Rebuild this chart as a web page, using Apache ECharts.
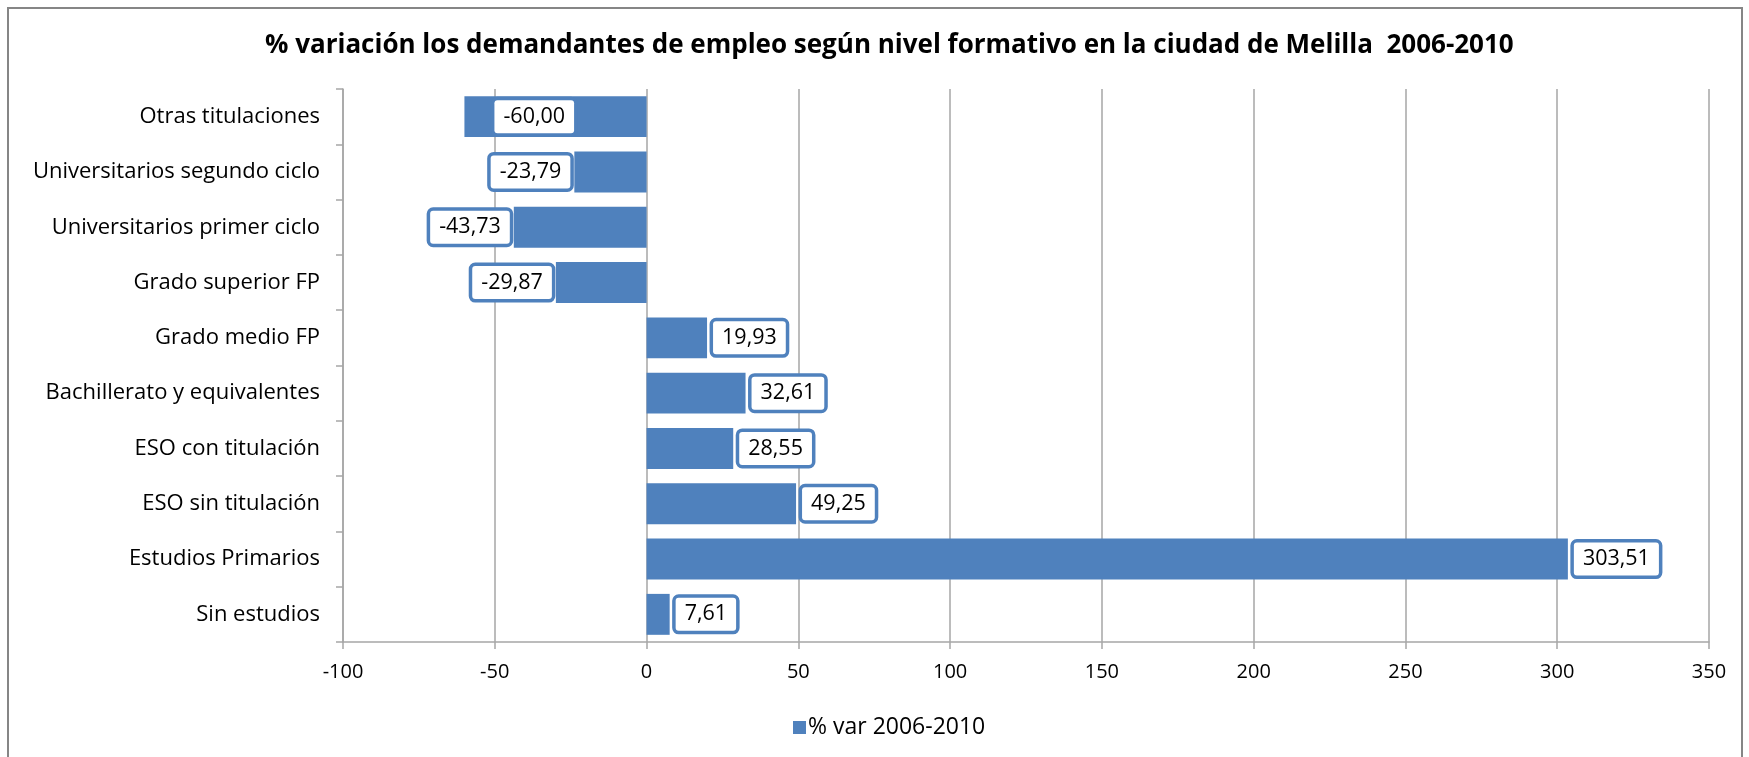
<!DOCTYPE html>
<html>
<head>
<meta charset="utf-8">
<script src="https://cdn.jsdelivr.net/npm/echarts@6/dist/echarts.min.js"></script>
<style>
html,body{margin:0;padding:0;background:#fff;}
#c{width:1749px;height:757px;}
</style>
</head>
<body>
<div id="c"></div>
<script>
const titleText = '% variación los demandantes de empleo según nivel formativo en la ciudad de Melilla  2006-2010';
const seriesName = '% var 2006-2010';
const categories = ['Sin estudios','Estudios Primarios','ESO sin titulación','ESO con titulación','Bachillerato y equivalentes','Grado medio FP','Grado superior FP','Universitarios primer ciclo','Universitarios segundo ciclo','Otras titulaciones'];
const values = [7.61, 303.51, 49.25, 28.55, 32.61, 19.93, -29.87, -43.73, -23.79, -60.00];
const xTicks = {min: -100, max: 350, interval: 50};

const FONT = '"Open Sans", Lato, sans-serif';
const BLUE = '#4F81BD';
const GRID = '#A6A6A6';

const chart = echarts.init(document.getElementById('c'), null, {renderer: 'canvas'});

const baseLabel = {
  show: true,
  formatter: p => p.value.toFixed(2).replace('.', ','),
  fontFamily: FONT,
  fontSize: 21.5,
  lineHeight: 24,
  color: '#000',
  backgroundColor: '#fff',
  borderColor: BLUE,
  borderWidth: 3.5,
  borderRadius: 3,
  padding: [5, 9, 4, 9]
};

const data = values.map((v, i) => {
  const item = {value: v};
  if (v < 0) {
    // Excel placed the largest negative label inside the bar
    if (v <= -60) {
      item.label = {position: 'insideLeft', distance: 30};
    } else {
      item.label = {position: 'left', distance: 4};
    }
  } else {
    item.label = {position: 'right', distance: 6};
  }
  return item;
});

chart.setOption({
  animation: false,
  backgroundColor: '#fff',
  title: {
    text: titleText,
    left: 260,
    top: 28,
    textStyle: {fontFamily: FONT, fontSize: 26, fontWeight: 'bold', color: '#000'}
  },
  legend: {
    left: 788,
    top: 711,
    itemWidth: 13,
    itemHeight: 13,
    itemGap: 5,
    icon: 'rect',
    textStyle: {fontFamily: FONT, fontSize: 23, color: '#000', padding: [0,0,0,-3]},
    data: [seriesName]
  },
  grid: {left: 343, right: 40, top: 89, bottom: 115, containLabel: false},
  xAxis: {
    type: 'value',
    min: xTicks.min, max: xTicks.max, interval: xTicks.interval,
    axisLine: {show: true, onZero: false, lineStyle: {color: GRID, width: 1.5}},
    axisTick: {show: true, length: 7, lineStyle: {color: GRID, width: 1.5}},
    axisLabel: {fontFamily: FONT, fontSize: 20, color: '#000', margin: 20},
    splitLine: {show: true, lineStyle: {color: GRID, width: 1.5}}
  },
  yAxis: [
    {
      type: 'category',
      data: categories,
      position: 'left',
      axisLine: {show: false},
      axisTick: {show: false},
      axisLabel: {fontFamily: FONT, fontSize: 22, color: '#000', margin: 23}
    },
    {
      type: 'category',
      data: categories,
      position: 'left',
      axisLine: {show: true, onZero: true, lineStyle: {color: GRID, width: 1.5}},
      axisTick: {show: true, length: 7, lineStyle: {color: GRID, width: 1.5}},
      axisLabel: {show: false}
    }
  ],
  series: [{
    name: seriesName,
    type: 'bar',
    yAxisIndex: 0,
    data: data,
    barCategoryGap: '26%',
    itemStyle: {color: BLUE},
    label: baseLabel
  }],
  graphic: [{
    type: 'rect',
    shape: {x: 8, y: 8, width: 1734, height: 760},
    style: {fill: 'none', stroke: '#868686', lineWidth: 2},
    silent: true
  }]
});
</script>
</body>
</html>
